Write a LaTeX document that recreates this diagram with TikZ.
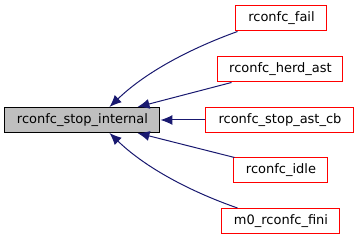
\documentclass[tikz,border=0pt]{standalone}
\usepackage{fontspec}
\setmainfont{DejaVu Sans}
\usetikzlibrary{arrows.meta}
\definecolor{edgeblue}{HTML}{191970}
\definecolor{mainfill}{HTML}{BFBFBF}
\tikzset{
  fn/.style={draw=red, fill=white, line width=1pt, inner sep=0pt, minimum height=25pt,
    font=\fontsize{13}{15}\selectfont},
  mainfn/.style={draw=black, fill=mainfill, line width=1pt, inner sep=0pt, minimum height=25pt,
    minimum width=155pt, font=\fontsize{13}{15}\selectfont},
  edge/.style={draw=edgeblue, line width=1pt, -{Latex[length=12pt,width=10pt]}},
}
\begin{document}
\begin{tikzpicture}[x=1pt,y=1pt]
\useasboundingbox (0,0) rectangle (360,240);
\node[mainfn] (main) at (82.5,120) {rconfc\_stop\_internal};
\node[fn, minimum width=91pt]  (fail) at (281.5,221.5) {rconfc\_fail};
\node[fn, minimum width=125pt] (herd) at (280.5,170.5) {rconfc\_herd\_ast};
\node[fn, minimum width=148pt] (cb)   at (280,120)     {rconfc\_stop\_ast\_cb};
\node[fn, minimum width=94pt]  (idle) at (281,69.5)    {rconfc\_idle};
\node[fn, minimum width=118pt] (fini) at (281,19)      {m0\_rconfc\_fini};
\draw[edge] ([xshift=2pt]fail.south west) .. controls (200,195) and (150,172) .. ([xshift=27pt]main.north);
\draw[edge] ([xshift=14pt]herd.south west) -- ([xshift=55pt]main.north);
\draw[edge] (cb.west) -- (main.east);
\draw[edge] ([xshift=1pt]idle.north west) -- ([xshift=55pt]main.south);
\draw[edge] ([xshift=16pt]fini.north west) .. controls (200,45) and (150,68) .. ([xshift=27pt]main.south);
\end{tikzpicture}
\end{document}
